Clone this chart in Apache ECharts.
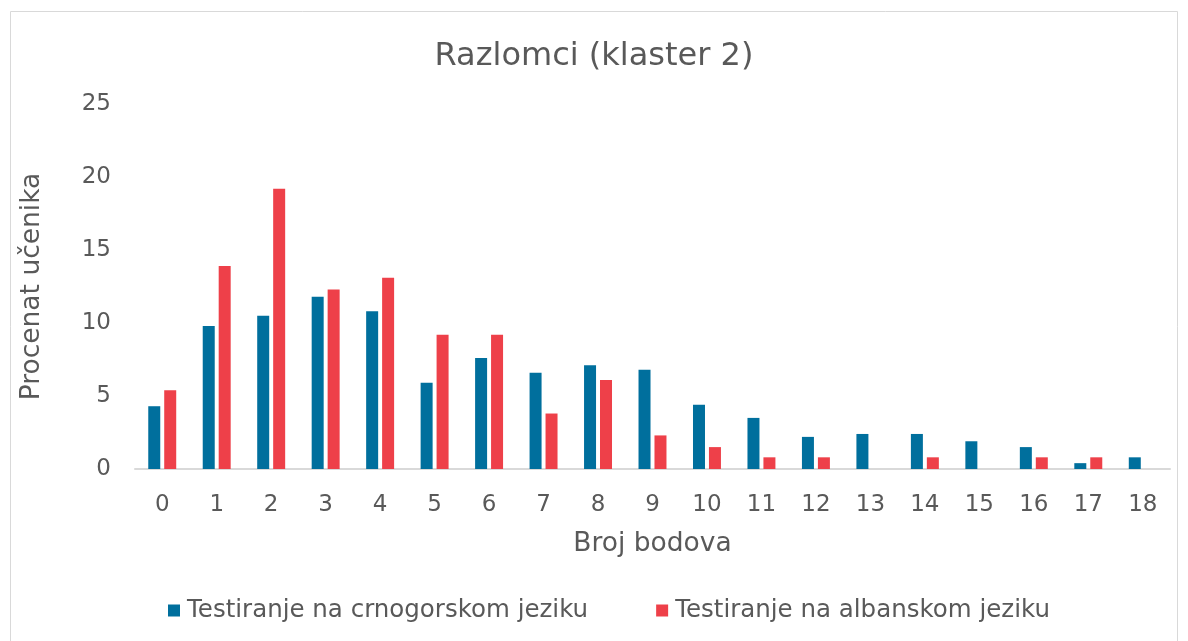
<!DOCTYPE html>
<html><head><meta charset="utf-8">
<script src="https://cdn.jsdelivr.net/npm/echarts@6/dist/echarts.min.js"></script>
<style>html,body{margin:0;padding:0;background:#fff}#c{width:1188px;height:641px}</style>
</head><body><div id="c"></div>
<script>
const categories = ['0','1','2','3','4','5','6','7','8','9','10','11','12','13','14','15','16','17','18'];
const crnogorski = [4.3, 9.8, 10.5, 11.8, 10.8, 5.9, 7.6, 6.6, 7.1, 6.8, 4.4, 3.5, 2.2, 2.4, 2.4, 1.9, 1.5, 0.4, 0.8];
const albanski = [5.4, 13.9, 19.2, 12.3, 13.1, 9.2, 9.2, 3.8, 6.1, 2.3, 1.5, 0.8, 0.8, 0, 0.8, 0, 0.8, 0.8, 0];
const seriesNames = ['Testiranje na crnogorskom jeziku', 'Testiranje na albanskom jeziku'];
const titleText = 'Razlomci (klaster 2)';
const xName = 'Broj bodova';
const yName = 'Procenat učenika';

const font = 'DejaVu Sans, Verdana, sans-serif';
const txt = '#595959';
const chart = echarts.init(document.getElementById('c'));
chart.setOption({
  animation: false,
  graphic: [{type:'rect', shape:{x:10.5, y:11.5, width:1167, height:640}, style:{fill:'none', stroke:'#d9d9d9', lineWidth:1}}],
  title: {text: titleText, left: 'center', top: 36, textStyle:{fontFamily: font, fontSize: 32, fontWeight: 'normal', color: txt}},
  legend: {bottom: 13, left: 163, itemWidth: 12, itemHeight: 12, itemGap: 68, icon: 'rect',
    textStyle:{fontFamily: font, fontSize: 24.5, color: txt, padding:[0,0,0,2]}, data: seriesNames},
  grid: {left: 135, right: 18, top: 104, bottom: 172, containLabel: false},
  xAxis: {type:'category', data: categories, name: xName, nameLocation:'middle', nameGap: 62,
    nameTextStyle:{fontFamily: font, fontSize: 26.5, color: txt},
    axisLine:{lineStyle:{color:'#d9d9d9', width:2}}, axisTick:{show:false},
    axisLabel:{fontFamily: font, fontSize: 23, color: txt, margin: 25}},
  yAxis: {type:'value', min:0, max:25, interval:5, name: yName, nameLocation:'middle', nameGap: 89,
    nameTextStyle:{fontFamily: font, fontSize: 26.5, color: txt},
    axisLine:{show:false}, axisTick:{show:false}, splitLine:{show:false},
    axisLabel:{fontFamily: font, fontSize: 23, color: txt, margin: 24}},
  series: [
    {name: seriesNames[0], type:'bar', data: crnogorski, barWidth: 12, barGap: '33%', itemStyle:{color:'#006f9d'}},
    {name: seriesNames[1], type:'bar', data: albanski, barWidth: 12, itemStyle:{color:'#ee4049'}}
  ]
});
</script></body></html>
